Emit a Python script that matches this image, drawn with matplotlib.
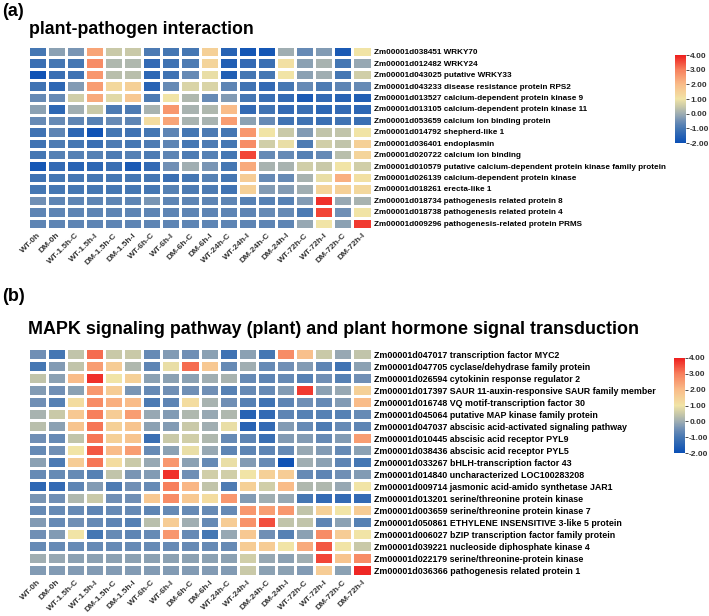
import numpy as np
import matplotlib
matplotlib.use("Agg")
import matplotlib.pyplot as plt
from matplotlib.colors import LinearSegmentedColormap

plt.rcParams['font.family'] = ['Liberation Sans', 'DejaVu Sans']
plt.rcParams['font.weight'] = 'bold'

samples = ["WT-0h", "DM-0h", "WT-1.5h-C", "WT-1.5h-I", "DM-1.5h-C", "DM-1.5h-I",
           "WT-6h-C", "WT-6h-I", "DM-6h-C", "DM-6h-I", "WT-24h-C", "WT-24h-I",
           "DM-24h-C", "DM-24h-I", "WT-72h-C", "WT-72h-I", "DM-72h-C", "DM-72h-I"]

genes_a = [
    "Zm00001d038451 WRKY70",
    "Zm00001d012482 WRKY24",
    "Zm00001d043025 putative WRKY33",
    "Zm00001d043233 disease resistance protein RPS2",
    "Zm00001d013527 calcium-dependent protein kinase 9",
    "Zm00001d013105 calcium-dependent protein kinase 11",
    "Zm00001d053659 calcium ion binding protein",
    "Zm00001d014792 shepherd-like 1",
    "Zm00001d036401 endoplasmin",
    "Zm00001d020722 calcium ion binding",
    "Zm00001d010579 putative calcium-dependent protein kinase family protein",
    "Zm00001d026139 calcium-dependent protein kinase",
    "Zm00001d018261 erecta-like 1",
    "Zm00001d018734 pathogenesis related protein 8",
    "Zm00001d018738 pathogenesis related protein 4",
    "Zm00001d009296 pathogenesis-related protein PRMS",
]

values_a = [
    [-1.0, -0.2, -0.4, 2.4, 0.5, 0.5, -0.9, -1.0, -1.0, 1.5, -1.5, -1.8, -1.8, 0.0, -0.6, -0.3, -1.7, 1.0],
    [-1.2, -1.0, -1.0, 2.8, 0.2, 0.2, -1.3, -1.1, -0.9, 1.4, -1.6, -1.3, -1.2, 1.1, -0.2, 0.1, -1.0, -0.1],
    [-1.9, -1.2, -1.1, 2.6, 0.3, 0.3, -1.4, -1.1, -0.6, 0.9, -1.6, -1.0, -1.0, 1.0, -0.2, 0.0, -1.0, 0.6],
    [-1.1, -1.4, -0.3, 2.5, 1.3, 1.5, -1.5, -0.6, 0.7, 0.7, -0.7, -1.1, -1.3, -1.0, -0.6, -0.9, -0.7, -0.6],
    [-0.6, -0.6, 0.6, 2.3, 0.8, 1.7, -0.9, 1.0, 0.2, -0.6, -0.3, -1.0, -1.2, -1.3, -1.7, -1.3, -1.5, -1.6],
    [-0.2, -1.4, 0.0, 0.5, -0.9, -0.9, 0.1, 2.6, 0.1, 0.2, 2.0, -1.3, -1.1, -1.3, -1.2, -1.4, -1.3, -1.4],
    [-0.6, -0.6, -0.7, -0.8, -0.6, -0.7, 1.2, 2.4, 0.1, 0.1, 2.5, -0.2, -0.6, -1.1, -1.1, -1.2, -1.1, -1.2],
    [-1.1, -0.7, -1.4, -1.9, -1.0, -1.1, -1.0, -0.7, -1.0, -0.9, -1.0, 2.6, 1.0, 0.5, -0.3, 0.4, 0.4, 1.0],
    [-1.1, -0.9, -1.0, -1.2, -0.9, -1.0, -0.9, -0.7, -1.0, -0.9, -1.0, 2.8, 0.6, 0.9, -0.9, 0.6, 0.4, 1.5],
    [-1.0, -0.8, -0.8, -0.8, -0.9, -0.8, -0.9, -0.7, -0.9, -0.8, -1.0, 3.6, -0.6, -0.6, -0.8, -0.6, 0.3, 1.4],
    [-1.8, -1.3, -1.5, -1.4, -1.2, -1.7, -1.3, -0.5, 0.0, -0.4, -1.0, 2.3, 0.1, 0.1, 0.6, 0.5, 1.0, 0.6],
    [-1.1, -1.0, -1.0, -1.0, -1.0, -1.0, -1.0, -1.2, -1.0, -0.8, -1.0, 1.6, -0.6, -0.6, 0.1, 0.9, 2.2, 1.1],
    [-1.0, -1.0, -1.0, -1.0, -1.0, -1.0, -1.0, -0.8, -0.9, -0.9, -1.1, 1.5, -0.3, -0.3, 0.0, 1.4, 1.5, 1.3],
    [-0.5, -0.7, -0.7, -0.7, -0.7, -0.7, -0.4, -0.7, -0.7, -0.7, -0.7, -0.8, -0.8, -0.8, -0.3, 3.8, -0.1, 0.1],
    [-0.7, -0.7, -0.7, -0.7, -0.7, -0.7, -0.7, -0.7, -0.7, -0.7, -0.7, -0.7, -0.6, -0.6, -0.9, 3.6, -0.5, 1.0],
    [-0.7, -0.7, -0.7, -0.7, -0.7, -0.7, -0.7, -0.7, -0.7, -0.7, -0.7, -0.7, -0.7, -0.7, -0.1, 1.0, -0.2, 3.7],
]

genes_b = [
    "Zm00001d047017 transcription factor MYC2",
    "Zm00001d047705 cyclase/dehydrase family protein",
    "Zm00001d026594 cytokinin response regulator 2",
    "Zm00001d017397 SAUR 11-auxin-responsive SAUR family member",
    "Zm00001d016748 VQ motif-transcription factor 30",
    "Zm00001d045064 putative MAP kinase family protein",
    "Zm00001d047037 abscisic acid-activated signaling pathway",
    "Zm00001d010445 abscisic acid receptor PYL9",
    "Zm00001d038436 abscisic acid receptor PYL5",
    "Zm00001d033267 bHLH-transcription factor 43",
    "Zm00001d014840 uncharacterized LOC100283208",
    "Zm00001d009714 jasmonic acid-amido synthetase JAR1",
    "Zm00001d013201 serine/threonine protein kinase",
    "Zm00001d003659 serine/threonine protein kinase 7",
    "Zm00001d050861 ETHYLENE INSENSITIVE 3-like 5 protein",
    "Zm00001d006027 bZIP transcription factor family protein",
    "Zm00001d039221 nucleoside diphosphate kinase 4",
    "Zm00001d022179 serine/threonine-protein kinase",
    "Zm00001d036366 pathogenesis related protein 1",
]

values_b = [
    [-0.5, -1.0, 0.4, 3.2, 0.5, 0.5, -0.6, -0.3, -0.5, -0.2, -1.1, -0.2, -1.0, 2.8, 1.9, 0.5, -0.1, 0.4],
    [-1.0, -0.3, 0.4, 2.5, 1.6, 0.2, -0.7, 0.9, 3.2, 1.7, -0.6, 0.0, -0.6, -0.5, -0.3, -0.7, -1.1, -0.2],
    [0.4, -0.2, 2.0, 3.8, 1.0, 1.5, -0.2, -0.2, -0.2, 0.0, 0.1, -0.6, -0.7, -0.6, -0.8, -0.5, -0.8, -0.5],
    [-0.3, -0.5, -0.2, 2.6, 1.6, -0.4, -0.6, -0.5, -0.5, -0.5, -0.8, -0.6, -0.6, -0.3, 3.7, -0.2, -0.1, 1.5],
    [-0.5, -0.8, 1.2, 2.8, 2.2, 2.0, -0.9, -0.7, 1.2, 0.1, -0.5, -0.8, -1.1, -0.7, -0.5, -0.6, -0.3, 2.0],
    [0.1, 0.5, 1.7, 3.0, 1.6, 2.5, -0.1, -0.3, 0.2, -0.1, 0.2, -1.5, -1.3, -0.7, -0.8, -0.8, -0.8, -0.6],
    [0.3, -0.2, 1.8, 3.1, 1.5, 1.8, -0.2, -0.3, 0.5, 0.0, 0.9, -1.5, -1.3, -0.3, -0.6, -0.9, -0.6, -0.7],
    [-0.5, -0.6, 0.4, 3.1, 1.5, 1.8, -1.2, 0.5, 0.6, 0.2, -0.6, -0.7, -1.2, -0.3, -0.3, -0.6, -0.3, 2.5],
    [-0.6, -0.5, 1.0, 3.4, 2.0, 2.5, -0.6, -0.2, 0.9, -0.1, -0.7, -0.7, -0.7, -0.6, -0.1, -0.3, -0.6, -0.2],
    [-0.2, -0.9, 1.6, 3.1, 1.2, 0.5, -0.1, 2.6, -0.2, -0.6, 0.9, -0.3, -0.6, -1.9, 0.0, -0.2, -0.7, -1.0],
    [-0.6, -0.6, -0.6, -0.8, 0.4, -0.4, -0.3, 3.8, -0.5, 0.6, 0.6, 1.0, 1.5, 1.6, -0.6, -0.7, -0.5, -0.3],
    [-1.4, -1.3, -0.7, -0.3, -0.9, -0.5, -0.6, 3.0, 2.1, 0.4, -0.9, 1.5, 0.6, 2.0, 0.2, 0.2, -0.1, 1.0],
    [-0.4, -0.5, 0.2, 0.5, -0.5, -0.5, 1.7, 2.8, 1.7, 1.2, 2.6, -0.3, 0.0, -0.1, -1.0, -1.3, -1.3, -1.3],
    [-0.6, -0.6, -0.6, -0.7, -0.6, -0.6, -0.7, -0.6, -0.6, -0.6, -0.6, 2.6, 2.5, 2.6, 0.4, 1.5, 1.0, 1.6],
    [-0.3, -0.6, -0.5, -0.6, -0.7, -0.8, 0.3, 1.6, 0.0, -0.6, 1.6, 2.7, 3.5, 0.4, 0.4, -0.7, -0.2, -0.8],
    [-0.5, -0.3, 1.0, -1.0, -0.6, -0.7, -0.6, 2.6, -0.6, -1.0, -0.1, 1.7, -0.5, -0.8, -0.2, 2.8, 1.6, 1.0],
    [-0.6, -0.6, -0.6, -0.6, -0.6, -0.6, -0.6, -0.6, -0.6, -0.6, -0.6, 1.6, 1.6, 1.0, 2.3, 3.4, 1.0, 0.5],
    [0.0, -0.1, -0.2, -0.2, -0.2, -0.2, -0.2, -0.2, -0.2, -0.2, -0.2, 0.6, -0.1, -0.2, 0.0, 3.6, 1.8, 2.8],
    [-0.3, -0.3, -0.3, -0.3, -0.3, -0.3, -0.3, -0.3, -0.3, -0.3, -0.3, 0.5, -0.2, -0.2, -0.3, 1.6, -0.2, 3.9],
]

# colour scale -2 .. 4
nodes = [(-2.0, "#0a4fb5"), (-1.0, "#4677b3"), (-0.5, "#6f8fb5"), (0.0, "#a0aeb2"),
         (0.5, "#c9c9a8"), (1.0, "#f1e4a6"), (2.0, "#f9bc89"), (3.0, "#f7805d"),
         (4.0, "#ee1e1e")]
vmin, vmax = -2.0, 4.0
cmap = LinearSegmentedColormap.from_list(
    "heat", [((v - vmin) / (vmax - vmin), c) for v, c in nodes])

W, H = 709, 616
fig = plt.figure(figsize=(W / 100, H / 100), dpi=100)


def px_axes(x0, y0, x1, y1):
    return fig.add_axes([x0 / W, 1 - y1 / H, (x1 - x0) / W, (y1 - y0) / H])


def draw_panel(ax, cax, values, genes, label_size):
    data = np.array(values)
    mesh = ax.pcolormesh(data, cmap=cmap, vmin=vmin, vmax=vmax,
                         edgecolors="white", linewidth=0.8)
    ax.set_xlim(0, data.shape[1])
    ax.set_ylim(data.shape[0], 0)
    ax.set_xticks(np.arange(data.shape[1]) + 0.5)
    ax.set_xticklabels(samples, rotation=45, ha="right", va="top",
                       fontsize=6, fontweight="bold", color="#333333",
                       rotation_mode="anchor")
    ax.yaxis.tick_right()
    ax.set_yticks(np.arange(data.shape[0]) + 0.5)
    ax.set_yticklabels(genes, fontsize=label_size, fontweight="bold")
    ax.tick_params(length=0, pad=2)
    for s in ax.spines.values():
        s.set_visible(False)
    cb = fig.colorbar(mesh, cax=cax, ticks=np.arange(-2, 5))
    cb.ax.set_yticklabels([f"{t:.2f}" for t in np.arange(-2, 5)],
                          fontsize=6, fontweight="bold", color="#333333")
    cb.ax.tick_params(length=2, width=0.5, pad=1)
    cb.outline.set_visible(False)


ax_a = px_axes(27.5, 46, 371.5, 229)
cax_a = px_axes(675, 55, 686, 143)
draw_panel(ax_a, cax_a, values_a, genes_a, 5.9)

ax_b = px_axes(27.5, 348, 371.5, 576)
cax_b = px_axes(674, 358, 685, 453)
draw_panel(ax_b, cax_b, values_b, genes_b, 6.4)

fig.text(2 / W, 1 - 12 / H, "(a)", fontsize=13, fontweight="bold", va="center")
fig.text(29 / W, 1 - 30 / H, "plant-pathogen interaction", fontsize=12.8,
         fontweight="bold", va="center")
fig.text(2 / W, 1 - 296 / H, "(b)", fontsize=13, fontweight="bold", va="center")
fig.text(28 / W, 1 - 330 / H,
         "MAPK signaling pathway (plant) and plant hormone signal transduction",
         fontsize=12.9, fontweight="bold", va="center")

fig.savefig("out.png", dpi=100)
